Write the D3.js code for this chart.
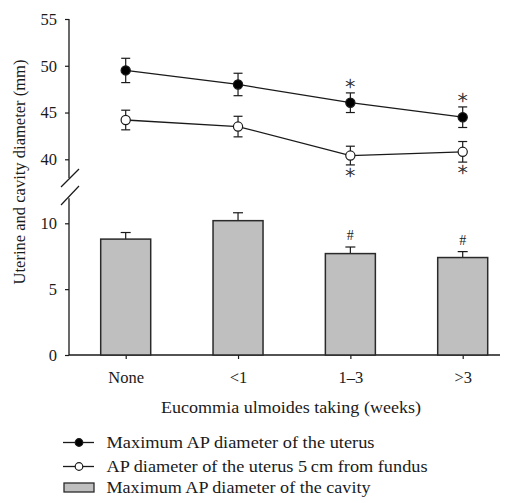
<!DOCTYPE html>
<html><head><meta charset="utf-8">
<script src="https://cdn.jsdelivr.net/npm/d3@7"></script>
<style>body{margin:0;background:#fff}svg{display:block}text{font-family:"Liberation Serif","DejaVu Serif",serif;fill:#1a1a1a}</style>
</head><body>
<script>
const categories = ["None", "<1", "1\u20133", ">3"];
const uterusMax = [49.5, 48.0, 46.05, 44.5];
const uterusMaxErr = [1.3, 1.2, 1.05, 1.1];
const uterus5cm = [44.2, 43.5, 40.4, 40.8];
const uterus5cmErr = [1.05, 1.1, 1.0, 1.1];
const cavityMax = [8.8, 10.2, 7.7, 7.4];
const cavityMaxErr = [0.5, 0.6, 0.5, 0.45];
const upperTicks = [40, 45, 50, 55];
const lowerTicks = [0, 5, 10];
const starsAbove = [false, false, true, true];
const starsBelow = [false, false, true, true];
const hashMarks = [false, false, true, true];
const legendLabels = ["Maximum AP diameter of the uterus", "AP diameter of the uterus 5\u2009cm from fundus", "Maximum AP diameter of the cavity"];

const W = 529, H = 503;
const svg = d3.select("body").append("svg").attr("width", W).attr("height", H);
const x = d3.scalePoint().domain(categories).range([125.7, 462.7]);
const yTop = d3.scaleLinear().domain([40, 55]).range([159.3, 19]);
const yBot = d3.scaleLinear().domain([0, 10]).range([355, 223.3]);
const axX = 69;
const ink = "#1a1a1a";

// upper axis
const gT = svg.append("g").attr("transform", `translate(${axX},0)`)
  .call(d3.axisLeft(yTop).tickValues(upperTicks).tickSize(4).tickPadding(8));
gT.select(".domain").remove();
gT.selectAll("line").attr("stroke", ink).attr("stroke-width", 1.2);
gT.selectAll("text").style("font-size", "16.5px").attr("fill", ink);
svg.append("line").attr("x1", axX).attr("x2", axX).attr("y1", yTop(55)).attr("y2", yTop(38)).attr("stroke", ink).attr("stroke-width", 1.3);

// lower axis
const gB = svg.append("g").attr("transform", `translate(${axX},0)`)
  .call(d3.axisLeft(yBot).tickValues(lowerTicks).tickSize(4).tickPadding(8));
gB.select(".domain").remove();
gB.selectAll("line").attr("stroke", ink).attr("stroke-width", 1.2);
gB.selectAll("text").style("font-size", "16.5px").attr("fill", ink);
svg.append("line").attr("x1", axX).attr("x2", axX).attr("y1", yBot(11.9)).attr("y2", yBot(0)).attr("stroke", ink).attr("stroke-width", 1.3);

// break marks
svg.append("line").attr("x1", 61).attr("y1", 187).attr("x2", 79).attr("y2", 169).attr("stroke", ink).attr("stroke-width", 1.2);
svg.append("line").attr("x1", 61).attr("y1", 205).attr("x2", 79).attr("y2", 186).attr("stroke", ink).attr("stroke-width", 1.2);

// x axis
svg.append("line").attr("x1", axX).attr("x2", 500).attr("y1", yBot(0)).attr("y2", yBot(0)).attr("stroke", ink).attr("stroke-width", 1.3);
const gX = svg.append("g").attr("transform", `translate(0,${yBot(0)})`)
  .call(d3.axisBottom(x).tickSize(4).tickPadding(12));
gX.select(".domain").remove();
gX.selectAll("line").attr("stroke", ink).attr("stroke-width", 1.2);
gX.selectAll("text").style("font-size", "16.5px").attr("fill", ink);

// bars
const bw = 50;
categories.forEach((c, i) => {
  const cx = x(c);
  const top = yBot(cavityMax[i] + cavityMaxErr[i]);
  svg.append("line").attr("x1", cx).attr("x2", cx).attr("y1", yBot(cavityMax[i])).attr("y2", top).attr("stroke", ink).attr("stroke-width", 1.2);
  svg.append("line").attr("x1", cx - 5).attr("x2", cx + 5).attr("y1", top).attr("y2", top).attr("stroke", ink).attr("stroke-width", 1.2);
  svg.append("rect").attr("x", cx - bw / 2).attr("y", yBot(cavityMax[i])).attr("width", bw).attr("height", yBot(0) - yBot(cavityMax[i]))
    .attr("fill", "#bfbfbf").attr("stroke", "#2a2a2a").attr("stroke-width", 1.5);
  if (hashMarks[i]) svg.append("text").attr("x", cx).attr("y", top - 7).attr("text-anchor", "middle").style("font-size", "14px").text("#");
});

// lines
const line = d3.line().x((d, i) => x(categories[i]));
function star(cx, cy) {
  svg.append("text").attr("x", cx).attr("y", cy + 8).attr("text-anchor", "middle")
    .attr("stroke", "#333").attr("stroke-width", 0.45)
    .style("font-family", "DejaVu Sans").style("font-weight", 200).style("font-size", "20px").text("*");
}
function series(vals, errs, filled, starAbove, starBelow) {
  svg.append("path").datum(vals).attr("d", line.y(d => yTop(d))).attr("fill", "none").attr("stroke", ink).attr("stroke-width", 1.3);
  vals.forEach((v, i) => {
    const cx = x(categories[i]);
    const y1 = yTop(v + errs[i]), y2 = yTop(v - errs[i]);
    svg.append("line").attr("x1", cx).attr("x2", cx).attr("y1", y1).attr("y2", y2).attr("stroke", ink).attr("stroke-width", 1.2);
    [y1, y2].forEach(yy => svg.append("line").attr("x1", cx - 4.5).attr("x2", cx + 4.5).attr("y1", yy).attr("y2", yy).attr("stroke", ink).attr("stroke-width", 1.2));
    svg.append("circle").attr("cx", cx).attr("cy", yTop(v)).attr("r", 4.6).attr("fill", filled ? "#000" : "#fff").attr("stroke", ink).attr("stroke-width", 1.2);
    if (starAbove && starAbove[i]) star(cx, y1 - 8);
    if (starBelow && starBelow[i]) star(cx, y2 + 9);
  });
}
series(uterusMax, uterusMaxErr, true, starsAbove, null);
series(uterus5cm, uterus5cmErr, false, null, starsBelow);

// titles
svg.append("text").attr("x", 291).attr("y", 413).attr("text-anchor", "middle").style("font-size", "17px")
  .attr("textLength", 260).attr("lengthAdjust", "spacingAndGlyphs").text("Eucommia ulmoides taking (weeks)");
svg.append("text").attr("transform", "translate(25,172) rotate(-90)").attr("text-anchor", "middle").style("font-size", "16.5px")
  .attr("textLength", 225).attr("lengthAdjust", "spacingAndGlyphs").text("Uterine and cavity diameter (mm)");

// legend
const ly = [442.5, 466.5, 487.5];
const lw = [268, 321, 264];
const lg = svg.append("g");
[0, 1].forEach(i => {
  lg.append("line").attr("x1", 63).attr("x2", 94).attr("y1", ly[i]).attr("y2", ly[i]).attr("stroke", ink).attr("stroke-width", 1.3);
  lg.append("circle").attr("cx", 79).attr("cy", ly[i]).attr("r", 3.8).attr("fill", i === 0 ? "#000" : "#fff").attr("stroke", ink).attr("stroke-width", 1.2);
});
lg.append("rect").attr("x", 64).attr("y", ly[2] - 4.5).attr("width", 30).attr("height", 9).attr("fill", "#bfbfbf").attr("stroke", "#2a2a2a").attr("stroke-width", 1.3);
legendLabels.forEach((t, i) => lg.append("text").attr("x", 106.5).attr("y", ly[i] + 5).style("font-size", "16.5px")
  .attr("textLength", lw[i]).attr("lengthAdjust", "spacingAndGlyphs").text(t));
</script>
</body></html>
